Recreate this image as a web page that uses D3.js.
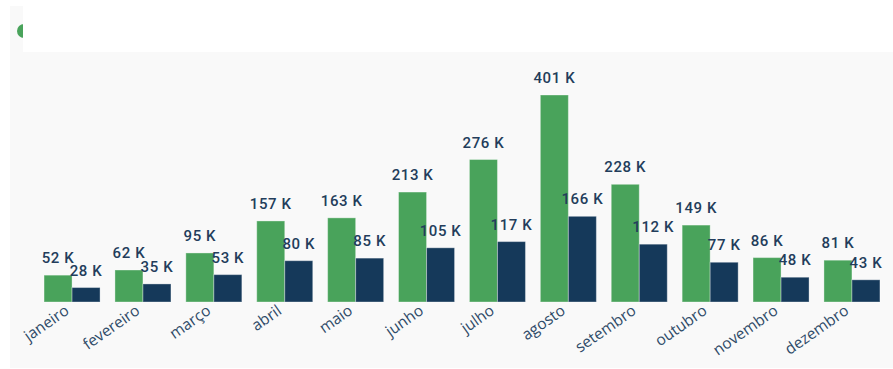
<!DOCTYPE html>
<html>
<head>
<meta charset="utf-8">
<script src="https://cdn.jsdelivr.net/npm/d3@7"></script>
<style>
  html, body { margin: 0; padding: 0; background: #ffffff; }
  svg { display: block; }
</style>
</head>
<body>
<svg id="chart" width="893" height="369"></svg>
<script>
// Monthly totals, in thousands
const months = ["janeiro", "fevereiro", "março", "abril", "maio", "junho",
                "julho", "agosto", "setembro", "outubro", "novembro", "dezembro"];
const seriesA = [52, 62, 95, 157, 163, 213, 276, 401, 228, 149, 86, 81];
const seriesB = [28, 35, 53, 80, 85, 105, 117, 166, 112, 77, 48, 43];
const seriesNames = ["A", "B"];
const seriesColors = ["#49a35b", "#15395a"];

const W = 893, H = 369;
const svg = d3.select("#chart");

// Panel background and header strip
svg.append("rect").attr("x", 10).attr("y", 6).attr("width", W - 10).attr("height", H - 7)
  .attr("fill", "#f9f9f9");
svg.append("circle").attr("cx", 24).attr("cy", 31).attr("r", 7).attr("fill", "#49a35b");
svg.append("rect").attr("x", 23).attr("y", 6).attr("width", W - 23).attr("height", 46)
  .attr("fill", "#ffffff");

// Scales
const x0 = d3.scaleBand().domain(months).range([36.6, 36.6 + 70.9 * 12]).paddingInner(0.21).paddingOuter(0.105);
const x1 = d3.scaleBand().domain(seriesNames).range([0, x0.bandwidth()]);
const y = d3.scaleLinear().domain([0, 401]).range([302, 95]);

const rows = months.map((m, i) => ({ month: m, values: [seriesA[i], seriesB[i]] }));

const groups = svg.append("g").selectAll("g").data(rows).join("g")
  .attr("transform", d => `translate(${x0(d.month)},0)`);

const cells = groups.selectAll("g").data(d => d.values.map((v, j) => ({ v, s: seriesNames[j], j })))
  .join("g");

cells.append("rect")
  .attr("x", d => x1(d.s))
  .attr("y", d => y(d.v))
  .attr("width", x1.bandwidth())
  .attr("height", d => y(0) - y(d.v))
  .attr("fill", d => seriesColors[d.j])
  .attr("stroke", "rgba(255,255,255,0.35)")
  .attr("stroke-width", 1);

cells.append("text")
  .attr("x", d => x1(d.s) + x1.bandwidth() / 2)
  .attr("y", d => y(d.v) - 12)
  .attr("text-anchor", "middle")
  .attr("font-family", "Roboto, 'DejaVu Sans', sans-serif")
  .attr("font-weight", 500)
  .attr("font-size", 15)
  .attr("letter-spacing", 0.6)
  .attr("fill", "#233d5b")
  .text(d => `${d.v} K`);

// Category axis labels
const xAxis = d3.axisBottom(x0).tickSize(0).tickPadding(0);
const axisG = svg.append("g").attr("transform", `translate(0,${y(0)})`).call(xAxis);
axisG.select(".domain").remove();
axisG.selectAll("text")
  .attr("font-family", "'Open Sans', 'Noto Sans', sans-serif")
  .attr("font-size", 15.5)
  .attr("fill", "#2f4b68")
  .attr("text-anchor", "end")
  .attr("dy", null)
  .attr("y", 0)
  .attr("transform", "translate(-2,11) rotate(-35)");
</script>
</body>
</html>
